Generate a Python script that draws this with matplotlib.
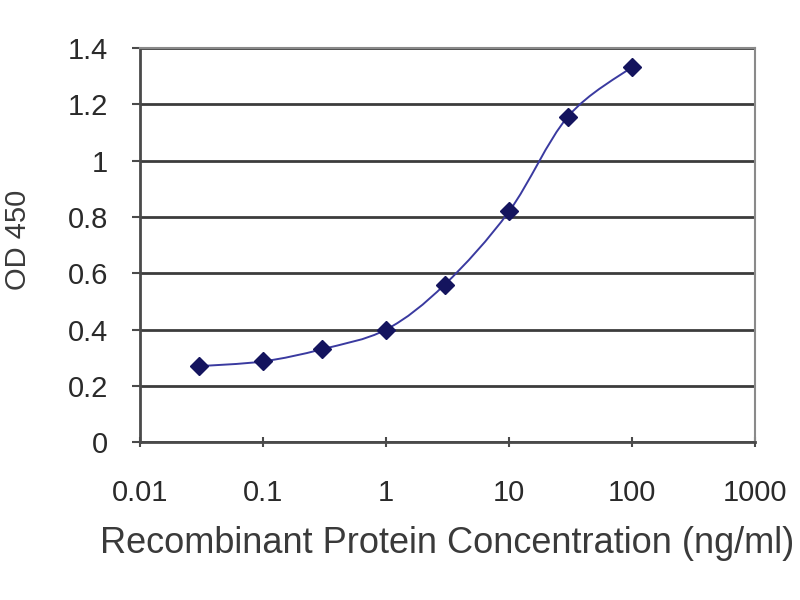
import matplotlib
matplotlib.use("Agg")
import matplotlib.pyplot as plt
from matplotlib.path import Path
from matplotlib.patches import PathPatch
import numpy as np

plt.rcParams['font.family'] = ['Liberation Sans', 'DejaVu Sans']

# ELISA readings
conc = [0.03, 0.1, 0.3, 1, 3, 10, 30, 100]
od = [0.27, 0.287, 0.33, 0.40, 0.56, 0.82, 1.156, 1.333]

yticks = [0, 0.2, 0.4, 0.6, 0.8, 1.0, 1.2, 1.4]
ytick_labels = ["0", "0.2", "0.4", "0.6", "0.8", "1", "1.2", "1.4"]
xticks = [0.01, 0.1, 1, 10, 100, 1000]
xtick_labels = ["0.01", "0.1", "1", "10", "100", "1000"]

fig = plt.figure(figsize=(8, 6), dpi=100)
ax = fig.add_axes([0.175, 0.263, 0.769, 0.657])
ax.set_xscale('log')
ax.set_xlim(0.01, 1000)
ax.set_ylim(0, 1.4)

# smooth line like a spreadsheet "smoothed line" (Catmull-Rom as bezier, in log-x space)
lx = np.log10(conc)
ly = np.array(od)
n = len(lx)
verts = [(lx[0], ly[0])]
codes = [Path.MOVETO]
for i in range(n - 1):
    p0 = (lx[max(i - 1, 0)], ly[max(i - 1, 0)])
    p1 = (lx[i], ly[i])
    p2 = (lx[i + 1], ly[i + 1])
    p3 = (lx[min(i + 2, n - 1)], ly[min(i + 2, n - 1)])
    c1 = (p1[0] + (p2[0] - p0[0]) / 6, p1[1] + (p2[1] - p0[1]) / 6)
    c2 = (p2[0] - (p3[0] - p1[0]) / 6, p2[1] - (p3[1] - p1[1]) / 6)
    verts += [c1, c2, p2]
    codes += [Path.CURVE4] * 3
verts = [(10 ** vx, vy) for vx, vy in verts]
curve = PathPatch(Path(verts, codes), facecolor='none', edgecolor='#3a3aa0', lw=1.4, zorder=3)
ax.add_patch(curve)

ax.plot(conc, od, linestyle='none', marker='D', markersize=9,
        color='#14145e', zorder=4)

ax.set_yticks(yticks)
ax.set_yticklabels(ytick_labels)
ax.set_xticks(xticks)
ax.set_xticklabels(xtick_labels)
ax.minorticks_off()
ax.grid(axis='y', color='#3c3c3c', lw=2)
ax.set_axisbelow(True)

for side in ['top', 'right']:
    ax.spines[side].set_color('#8a8a8a')
    ax.spines[side].set_linewidth(1.5)
for side in ['left', 'bottom']:
    ax.spines[side].set_color('#4a4a4a')
    ax.spines[side].set_linewidth(2)

ax.tick_params(axis='y', direction='out', length=6, width=1.5, color='#4a4a4a',
               labelsize=21, labelcolor='#2a2a2a', pad=17)
ax.tick_params(axis='x', direction='inout', length=7, width=1.5, color='#4a4a4a',
               labelsize=21, labelcolor='#2a2a2a', pad=23)

ax.set_xlabel("Recombinant Protein Concentration (ng/ml)", fontsize=26,
              color='#3a3a3a', va='center')
ax.xaxis.set_label_coords(0.5, -0.256)
ax.set_ylabel("OD 450", fontsize=21, color='#3a3a3a', va='center')
ax.yaxis.set_label_coords(-0.198, 0.513)

fig.savefig("out.png", dpi=100)
